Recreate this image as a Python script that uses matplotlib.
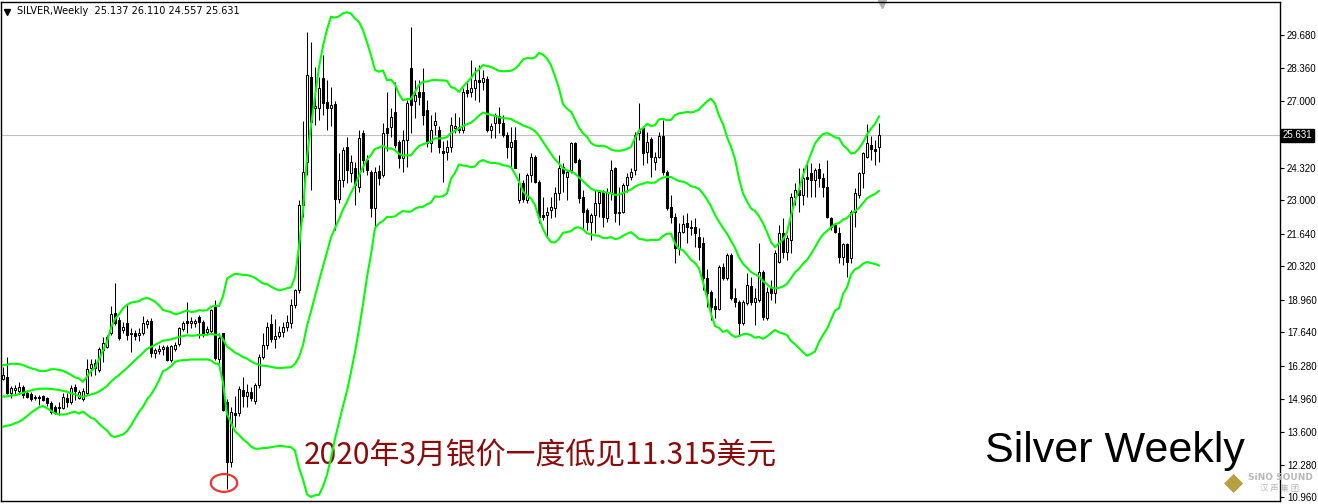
import numpy as np
import pandas as pd
import matplotlib
matplotlib.use("Agg")
import matplotlib.pyplot as plt
from matplotlib.patches import Rectangle, Ellipse

# weekly silver candles, Feb 2019 .. May 2023
opens = [15.75, 15.85, 15.20, 15.32, 15.27, 15.42, 15.17, 15.14, 14.97, 15.02,
         15.06, 14.97, 14.80, 14.60, 14.58, 14.57, 15.00, 14.84, 15.42, 14.98,
         14.96, 15.17, 16.19, 16.39, 16.12, 16.93, 17.06, 17.61, 18.44, 18.14,
         17.75, 18.01, 17.56, 17.60, 17.54, 17.61, 17.98, 18.12, 16.80, 16.90,
         16.98, 17.05, 16.52, 16.98, 17.18, 17.78, 18.12, 18.03, 18.02, 18.27,
         18.08, 17.67, 17.70, 18.68, 16.55, 17.60, 14.84, 12.40, 14.36, 14.36,
         15.31, 15.05, 15.24, 14.85, 15.50, 16.66, 17.13, 17.98, 17.38, 17.50,
         17.65, 17.85, 18.02, 18.75, 19.38, 22.80, 24.56, 28.00, 26.72, 26.72,
         27.95, 26.98, 26.72, 26.90, 23.05, 23.80, 25.17, 24.09, 24.29, 23.55,
         25.71, 24.63, 24.15, 22.67, 24.18, 24.02, 25.91, 25.98, 26.58, 25.37,
         24.72, 25.44, 28.34, 27.02, 27.40, 27.37, 26.65, 25.30, 26.05, 25.84,
         25.00, 24.95, 25.17, 25.92, 25.95, 25.84, 27.46, 27.38, 27.53, 27.87,
         27.80, 27.91, 25.84, 26.11, 26.41, 26.11, 25.64, 25.17, 25.44, 23.01,
         23.68, 23.01, 24.02, 24.76, 23.75, 22.40, 22.40, 22.60, 22.67, 23.28,
         24.36, 23.95, 24.22, 25.30, 24.63, 23.14, 22.60, 22.13, 22.40, 22.87,
         23.34, 22.26, 23.28, 24.29, 22.47, 22.53, 23.61, 23.95, 24.22, 25.71,
         25.91, 24.97, 25.47, 24.56, 24.76, 25.60, 24.15, 22.73, 22.33, 21.05,
         21.72, 22.09, 21.93, 21.93, 21.52, 21.25, 19.83, 19.29, 18.71, 18.61,
         20.30, 19.83, 20.78, 19.02, 18.89, 18.01, 18.82, 19.52, 18.89, 18.95,
         20.10, 18.21, 19.43, 19.23, 20.51, 21.66, 20.91, 21.39, 23.14, 23.41,
         23.20, 23.93, 24.09, 23.82, 24.25, 23.89, 23.55, 22.26, 22.00, 21.66,
         20.71, 21.22, 20.64, 22.53, 23.21, 24.09, 24.76, 25.23, 25.06, 25.137]
highs = [16.25, 16.65, 15.45, 15.50, 15.64, 15.52, 15.25, 15.24, 15.10, 15.11,
         15.12, 15.04, 14.85, 14.68, 14.83, 15.17, 15.17, 15.52, 15.55, 15.30,
         15.37, 16.58, 16.58, 16.55, 17.07, 17.47, 17.54, 18.71, 19.63, 18.28,
         18.05, 18.75, 17.82, 17.75, 17.82, 18.30, 18.20, 18.22, 17.00, 17.12,
         17.15, 17.15, 17.15, 17.25, 17.85, 18.10, 18.89, 18.25, 18.20, 18.35,
         18.15, 17.90, 18.60, 18.95, 17.60, 17.62, 14.95, 14.60, 15.05, 15.45,
         15.85, 15.55, 15.42, 15.60, 16.78, 17.60, 18.05, 18.38, 18.20, 17.90,
         18.05, 18.35, 19.00, 19.42, 23.00, 26.20, 29.83, 29.42, 28.41, 28.00,
         28.88, 27.87, 27.60, 27.00, 24.90, 25.17, 25.57, 24.83, 24.56, 25.84,
         25.84, 24.83, 24.22, 24.36, 24.42, 26.11, 27.40, 26.72, 27.80, 25.44,
         25.84, 27.06, 30.03, 27.87, 27.87, 28.34, 27.06, 26.45, 26.58, 26.00,
         25.40, 25.45, 26.38, 26.52, 26.38, 27.55, 27.80, 28.68, 28.41, 28.48,
         28.27, 28.05, 26.11, 26.52, 26.79, 26.45, 25.78, 25.98, 25.98, 24.09,
         23.80, 24.09, 24.90, 24.83, 23.80, 23.14, 22.73, 23.14, 23.55, 24.83,
         24.49, 24.22, 25.37, 25.37, 24.70, 23.41, 22.67, 22.47, 23.41, 23.41,
         23.41, 23.48, 24.63, 24.36, 23.55, 23.68, 24.09, 24.29, 25.78, 26.92,
         25.98, 25.78, 25.57, 24.96, 25.78, 26.25, 24.22, 23.20, 22.47, 22.06,
         22.40, 22.47, 22.20, 22.26, 21.86, 21.52, 20.20, 19.36, 19.05, 20.37,
         20.44, 20.85, 20.85, 19.43, 18.95, 18.95, 20.04, 19.90, 19.43, 21.25,
         20.17, 19.49, 19.77, 20.98, 21.99, 22.26, 21.59, 23.28, 23.68, 24.29,
         24.29, 24.49, 24.49, 24.29, 24.49, 24.09, 24.63, 22.33, 22.06, 21.93,
         21.27, 21.25, 22.60, 23.48, 24.15, 24.97, 26.09, 25.60, 25.44, 26.110]
lows = [15.70, 15.15, 14.98, 15.12, 15.17, 14.98, 14.97, 14.87, 14.90, 14.70,
        14.85, 14.65, 14.35, 14.33, 14.30, 14.53, 14.63, 14.74, 14.92, 14.93,
        14.88, 15.11, 15.86, 15.92, 16.05, 16.45, 17.00, 17.54, 17.94, 17.33,
        17.60, 17.33, 16.86, 17.35, 17.28, 17.55, 17.80, 16.66, 16.62, 16.78,
        16.73, 16.50, 16.45, 16.88, 17.10, 17.70, 17.62, 17.80, 17.85, 17.42,
        17.45, 17.55, 17.62, 16.52, 16.40, 14.45, 11.315, 12.20, 13.82, 14.25,
        14.60, 14.62, 14.85, 14.75, 15.38, 16.55, 16.95, 17.25, 17.00, 17.40,
        17.45, 17.68, 17.80, 18.65, 19.25, 22.30, 24.00, 23.41, 26.05, 26.25,
        26.45, 25.84, 26.00, 21.79, 22.87, 23.55, 23.68, 23.75, 22.80, 23.34,
        24.15, 24.02, 22.33, 21.92, 23.61, 23.95, 24.99, 25.57, 25.10, 24.29,
        24.15, 24.36, 25.71, 26.32, 26.86, 26.05, 25.17, 24.96, 25.63, 24.90,
        23.75, 24.63, 24.95, 25.71, 25.71, 25.71, 27.19, 27.19, 27.06, 26.99,
        27.46, 25.75, 25.51, 25.51, 25.71, 25.57, 24.70, 24.36, 24.29, 22.87,
        22.94, 22.87, 23.75, 23.68, 22.06, 22.20, 21.45, 22.26, 22.33, 23.01,
        23.34, 23.01, 24.09, 24.49, 22.87, 21.79, 21.79, 21.39, 21.66, 22.33,
        21.93, 22.13, 23.01, 22.13, 22.00, 22.47, 23.34, 23.82, 24.02, 25.44,
        24.43, 24.49, 23.95, 24.22, 24.70, 24.02, 22.60, 22.06, 20.44, 20.78,
        21.66, 21.25, 21.60, 21.11, 20.58, 19.36, 18.68, 18.14, 18.22, 18.55,
        19.76, 19.76, 18.95, 18.68, 17.54, 17.94, 18.75, 18.75, 17.94, 18.89,
        18.14, 18.14, 18.95, 18.82, 20.44, 20.64, 20.58, 20.85, 22.80, 22.53,
        22.80, 23.14, 23.14, 23.14, 23.55, 23.14, 22.26, 21.79, 21.66, 20.44,
        20.37, 19.90, 20.44, 21.93, 23.07, 23.48, 24.70, 24.63, 24.43, 24.557]
closes = [15.93, 15.20, 15.38, 15.37, 15.44, 15.11, 15.04, 14.95, 15.03, 14.98,
          14.90, 14.78, 14.40, 14.40, 14.62, 15.04, 14.84, 15.38, 15.27, 15.24,
          15.28, 16.15, 16.35, 16.19, 16.96, 17.20, 17.47, 18.39, 18.01, 17.40,
          17.87, 17.54, 17.60, 17.48, 17.63, 18.04, 18.12, 16.82, 16.93, 16.98,
          17.04, 16.53, 17.10, 17.12, 17.80, 18.03, 18.02, 18.09, 18.10, 18.08,
          17.62, 17.78, 18.55, 16.60, 17.40, 14.50, 12.40, 14.43, 14.30, 15.35,
          15.05, 15.22, 14.98, 15.50, 16.66, 17.13, 17.85, 17.38, 17.50, 17.67,
          17.85, 18.08, 18.75, 19.38, 22.80, 24.15, 28.07, 26.18, 26.80, 27.53,
          26.93, 26.72, 26.85, 23.05, 23.82, 25.03, 24.22, 24.56, 23.61, 25.51,
          24.63, 24.22, 22.67, 24.15, 23.89, 25.71, 25.71, 26.38, 25.23, 24.70,
          25.44, 26.92, 26.86, 27.26, 27.19, 26.45, 25.30, 25.84, 26.21, 25.15,
          24.90, 25.17, 26.05, 26.00, 25.84, 27.40, 27.33, 27.53, 27.87, 27.80,
          27.94, 25.84, 26.00, 26.45, 26.11, 25.64, 25.17, 25.37, 24.32, 23.68,
          23.05, 24.02, 24.76, 23.75, 22.33, 22.33, 22.53, 22.73, 23.28, 24.29,
          24.09, 24.15, 25.30, 24.56, 23.07, 22.53, 22.13, 22.40, 22.87, 23.34,
          22.33, 23.34, 24.22, 22.47, 22.53, 23.61, 23.95, 24.15, 25.64, 25.84,
          24.90, 25.37, 24.76, 24.76, 25.60, 24.15, 22.67, 22.33, 21.05, 21.72,
          22.03, 21.93, 21.86, 21.66, 21.11, 19.83, 19.23, 18.68, 18.61, 20.30,
          19.83, 20.78, 19.02, 18.89, 18.01, 18.89, 19.56, 18.89, 19.02, 20.10,
          18.28, 19.29, 19.23, 20.85, 21.66, 20.91, 21.45, 23.14, 23.41, 23.20,
          23.89, 23.85, 23.82, 24.22, 23.89, 23.55, 22.33, 21.93, 21.72, 20.71,
          21.22, 20.51, 22.53, 23.28, 24.09, 24.92, 25.33, 25.06, 25.00, 25.631]

# Bollinger band values for the first 19 weeks
head_upper = [16.32, 16.33, 16.37, 16.37, 16.36, 16.32, 16.25, 16.19, 16.15, 16.09,
              16.07, 16.09, 16.15, 16.15, 16.12, 16.09, 16.01, 15.92, 15.82]
head_middle = [15.04, 15.05, 15.08, 15.10, 15.14, 15.19, 15.24, 15.29, 15.33, 15.36,
               15.36, 15.36, 15.35, 15.33, 15.31, 15.27, 15.24, 15.17, 15.14]
head_lower = [13.82, 13.86, 13.89, 13.96, 14.02, 14.12, 14.25, 14.39, 14.50, 14.61,
              14.66, 14.57, 14.47, 14.36, 14.32, 14.31, 14.33, 14.39, 14.43]

tick_values = [29.68, 28.36, 27.00, 24.32, 23.00, 21.64, 20.32, 18.96, 17.64,
               16.28, 14.96, 13.60, 12.28, 10.96]
tick_labels = ["29.680", "28.360", "27.000", "24.320", "23.000", "21.640", "20.320",
               "18.960", "17.640", "16.280", "14.960", "13.600", "12.280", "10.960"]
last_price = 25.631

df = pd.DataFrame({"open": opens, "high": highs, "low": lows, "close": closes})
mid = df["close"].rolling(20).mean()
sd = df["close"].rolling(20).std(ddof=0)
upper = (mid + 2 * sd).to_numpy()
lower = (mid - 2 * sd).to_numpy()
mid = mid.to_numpy()
n = len(head_upper)
upper[:n] = head_upper
mid[:n] = head_middle
lower[:n] = head_lower

fig = plt.figure(figsize=(13.18, 5.04), dpi=100)
ax = fig.add_axes([1 / 1318, 1 - 500.5 / 504, 1279 / 1318, 498.5 / 504])
ax.set_xlim(-0.5, 319.25)
ax.set_ylim(10.83, 31.03)

idx = np.arange(len(df))
ax.vlines(idx, df["low"], df["high"], color="black", lw=0.75, zorder=2)
for i, r in df.iterrows():
    lo, hi = min(r.open, r.close), max(r.open, r.close)
    up = r.close >= r.open
    if hi - lo < 0.03:
        ax.hlines((lo + hi) / 2, i - 0.3, i + 0.3, color="black", lw=0.9, zorder=3)
        continue
    ax.add_patch(Rectangle((i - 0.25, lo), 0.5, hi - lo, facecolor="white" if up else "black",
                           edgecolor="black", lw=0.75, zorder=3))

for band in (upper, mid, lower):
    ax.plot(idx, band, color="#00ff00", lw=1.5, zorder=4)

ax.axhline(last_price, color="#c0c0c0", lw=0.8, zorder=1)

ax.yaxis.tick_right()
ax.set_yticks(tick_values)
ax.set_yticklabels(tick_labels, fontsize=7, family="Liberation Sans")
ax.tick_params(axis="y", direction="out", length=3, width=0.8, pad=2)
ax.set_xticks([])
for s in ax.spines.values():
    s.set_linewidth(1)

ax.text(319.9, last_price, "25.631", transform=ax.transData, fontsize=7, family="Liberation Sans",
        color="white", va="center", ha="left", clip_on=False,
        bbox=dict(boxstyle="square,pad=0.15", fc="black", ec="black"))

ax.text(0.0125, 0.982, "SILVER,Weekly  25.137 26.110 24.557 25.631", transform=ax.transAxes,
        fontsize=7, family="DejaVu Sans", va="center", ha="left")
ax.plot([1.0], [30.62], marker="v", color="black", ms=4, clip_on=False)
ax.plot([219.8], [30.93], marker="v", color="#b0b0b0", ms=6, clip_on=False)

# red ring round the March 2020 low
ax.add_patch(Ellipse((55.25, 11.54), 6.6, 0.72, fill=False, edgecolor="#ee3333", lw=1.6, zorder=5))

ax.text(75.2, 12.65, "2020年3月银价一度低见11.315美元", fontsize=21.5, color="#8b0a0a",
        family=["Noto Sans CJK SC", "DejaVu Sans"], va="center", ha="left")
ax.text(245.5, 12.4, "Silver Weekly", fontsize=31, family="Liberation Sans",
        color="black", va="baseline", ha="left")

# watermark logo
fig.text(1234 / 1318, 1 - 483 / 504, "◆", fontsize=18, color="#b8a040", ha="center", va="center",
         family="DejaVu Sans")
fig.text(1280 / 1318, 1 - 477 / 504, "SiNO SOUND", fontsize=6.5, weight="bold", color="#b8b8b8",
         ha="center", va="center")
fig.text(1280 / 1318, 1 - 488 / 504, "汉 声 集 团", fontsize=6, color="#b8b8b8", ha="center",
         va="center", family=["Noto Sans CJK SC", "DejaVu Sans"])

fig.savefig("out.png", dpi=100)
